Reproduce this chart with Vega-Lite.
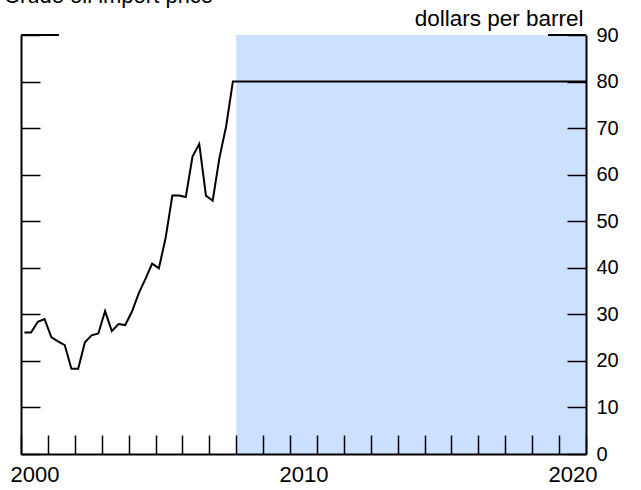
{
  "$schema": "https://vega.github.io/schema/vega-lite/v6.json",
  "width": 565,
  "height": 419,
  "autosize": {"type": "none"},
  "padding": {"left": 21, "top": 35, "right": 55, "bottom": 36},
  "background": "white",
  "title": {
    "text": "Crude oil import price",
    "anchor": "start",
    "frame": "group",
    "dx": -17,
    "dy": 18,
    "baseline": "alphabetic",
    "fontSize": 22,
    "fontWeight": "normal",
    "font": "Liberation Sans",
    "color": "black",
    "offset": 0
  },
  "config": {
    "view": {"stroke": null},
    "axis": {
      "labelFont": "Liberation Sans",
      "titleFont": "Liberation Sans",
      "labelColor": "black",
      "titleColor": "black",
      "domainColor": "black",
      "tickColor": "black",
      "grid": false
    }
  },
  "layer": [
    {
      "data": {"values": [{"start": 2008, "end": 2021, "lo": 0, "hi": 90}]},
      "mark": {"type": "rect", "color": "#cce0ff"},
      "encoding": {
        "x": {
          "field": "start", "type": "quantitative",
          "scale": {"domain": [2000, 2021], "nice": false, "zero": false},
          "axis": {
            "orient": "bottom", "title": null, "labels": false, "zindex": 1,
            "values": [2000,2001,2002,2003,2004,2005,2006,2007,2008,2009,2010,2011,2012,2013,2014,2015,2016,2017,2018,2019,2020,2021],
            "tickSize": -19, "tickWidth": 1.5, "domainWidth": 2
          }
        },
        "x2": {"field": "end"},
        "y": {
          "field": "lo", "type": "quantitative",
          "scale": {"domain": [0, 90], "nice": false},
          "axis": {
            "orient": "left", "title": null, "labels": false, "zindex": 1,
            "values": [0,10,20,30,40,50,60,70,80,90],
            "tickSize": -19, "tickWidth": 1.5, "domainWidth": 2
          }
        },
        "y2": {"field": "hi"}
      }
    },
    {
      "data": {"values": [
        {"t": 2000.125, "price": 26.1},
        {"t": 2000.375, "price": 26.1},
        {"t": 2000.625, "price": 28.4},
        {"t": 2000.875, "price": 29.0},
        {"t": 2001.125, "price": 25.1},
        {"t": 2001.375, "price": 24.2},
        {"t": 2001.625, "price": 23.4},
        {"t": 2001.875, "price": 18.3},
        {"t": 2002.125, "price": 18.3},
        {"t": 2002.375, "price": 24.0},
        {"t": 2002.625, "price": 25.5},
        {"t": 2002.875, "price": 25.9},
        {"t": 2003.125, "price": 30.7},
        {"t": 2003.375, "price": 26.4},
        {"t": 2003.625, "price": 27.9},
        {"t": 2003.875, "price": 27.7},
        {"t": 2004.125, "price": 30.6},
        {"t": 2004.375, "price": 34.5},
        {"t": 2004.625, "price": 37.6},
        {"t": 2004.875, "price": 40.9},
        {"t": 2005.125, "price": 39.9},
        {"t": 2005.375, "price": 46.4},
        {"t": 2005.625, "price": 55.5},
        {"t": 2005.875, "price": 55.5},
        {"t": 2006.125, "price": 55.2},
        {"t": 2006.375, "price": 63.9},
        {"t": 2006.625, "price": 66.6},
        {"t": 2006.875, "price": 55.5},
        {"t": 2007.125, "price": 54.4},
        {"t": 2007.375, "price": 63.6},
        {"t": 2007.625, "price": 70.4},
        {"t": 2007.875, "price": 80.0},
        {"t": 2009, "price": 80.0},
        {"t": 2010, "price": 80.0},
        {"t": 2011, "price": 80.0},
        {"t": 2012, "price": 80.0},
        {"t": 2013, "price": 80.0},
        {"t": 2014, "price": 80.0},
        {"t": 2015, "price": 80.0},
        {"t": 2016, "price": 80.0},
        {"t": 2017, "price": 80.0},
        {"t": 2018, "price": 80.0},
        {"t": 2019, "price": 80.0},
        {"t": 2020, "price": 80.0},
        {"t": 2021, "price": 80.0}
      ]},
      "mark": {"type": "line", "color": "black", "strokeWidth": 2},
      "encoding": {
        "x": {
          "field": "t", "type": "quantitative",
          "axis": {
            "orient": "bottom", "title": null, "domain": false, "ticks": false,
            "values": [2000.5, 2010.5, 2020.5],
            "labelExpr": "floor(datum.value)",
            "labelFontSize": 22, "labelPadding": 10,
            "labelFlush": false, "labelOverlap": false
          }
        },
        "y": {
          "field": "price", "type": "quantitative",
          "axis": {
            "orient": "right", "zindex": 1,
            "values": [0,10,20,30,40,50,60,70,80,90],
            "tickSize": -19, "tickWidth": 1.5, "domainWidth": 2,
            "labelFontSize": 20, "labelPadding": 29,
            "labelOverlap": false, "labelFlush": false,
            "title": "dollars per barrel",
            "titleAngle": 0, "titleX": -3, "titleY": -17,
            "titleAlign": "right", "titleBaseline": "middle",
            "titleFontSize": 22.5, "titleFontWeight": "normal"
          }
        }
      }
    },
    {
      "data": {"values": [
        {"from": 2000, "to": 2001.41, "level": 90},
        {"from": 2019.59, "to": 2021, "level": 90}
      ]},
      "mark": {"type": "rule", "color": "black", "strokeWidth": 2},
      "encoding": {
        "x": {"field": "from", "type": "quantitative", "axis": null},
        "x2": {"field": "to"},
        "y": {"field": "level", "type": "quantitative", "axis": null}
      }
    }
  ],
  "resolve": {"axis": {"x": "independent", "y": "independent"}}
}
